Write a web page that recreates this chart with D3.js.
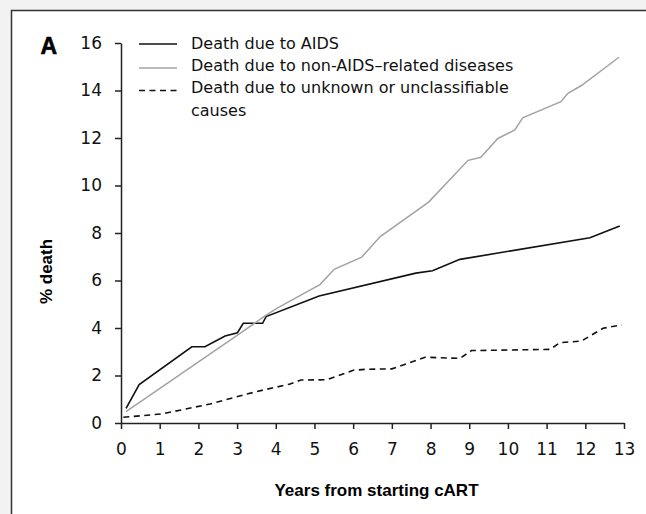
<!DOCTYPE html>
<html lang="en">

<head>
  <meta charset="utf-8" />
  <title>Death by cause after starting cART</title>
  <script src="https://d3js.org/d3.v7.min.js"></script>
  <style>
    body { margin: 0; background: #f2f2f2; }
    svg { display: block; }
    .tick text { font-family: "DejaVu Sans", sans-serif; font-size: 17px; fill: #111; }
    .axis path, .axis line { stroke: #222; stroke-width: 1.5px; }
  </style>
</head>

<body>
  <script>
    // series: [years from starting cART, % death]
    var aidsDeaths = [
      [0.13, 0.62], [0.47, 1.62], [1.83, 3.21], [2.17, 3.21], [2.69, 3.66],
      [3.01, 3.80], [3.16, 4.20], [3.66, 4.20], [3.75, 4.48], [5.12, 5.35],
      [7.62, 6.31], [8.05, 6.41], [8.76, 6.89], [12.12, 7.80], [12.89, 8.29]
    ];
    var nonAidsDeaths = [
      [0.13, 0.48], [3.03, 3.72], [3.76, 4.55], [4.05, 4.85], [5.14, 5.83],
      [5.51, 6.47], [6.22, 6.98], [6.70, 7.85], [7.95, 9.30], [8.97, 11.06],
      [9.30, 11.19], [9.74, 11.98], [10.18, 12.34], [10.38, 12.85], [11.37, 13.53],
      [11.55, 13.88], [11.90, 14.21], [12.87, 15.40]
    ];
    var unknownDeaths = [
      [0.06, 0.24], [1.05, 0.38], [2.30, 0.80], [3.16, 1.18], [3.68, 1.39],
      [4.37, 1.64], [4.65, 1.81], [5.32, 1.82], [6.00, 2.22], [6.31, 2.26],
      [7.00, 2.28], [7.86, 2.77], [8.76, 2.72], [9.06, 3.05], [11.09, 3.10],
      [11.34, 3.38], [11.90, 3.45], [12.46, 3.99], [12.94, 4.13]
    ];
    var xTicks = d3.range(0, 14);
    var yTicks = [0, 2, 4, 6, 8, 10, 12, 14, 16];
    var legendLabels = [
      ["Death due to AIDS"],
      ["Death due to non-AIDS\u2013related diseases"],
      ["Death due to unknown or unclassifiable", "causes"]
    ];

    var svg_width = 646;
    var svg_height = 514;

    var svg = d3.select("body").append("svg")
      .attr("width", svg_width)
      .attr("height", svg_height);

    // white panel with a frame on the left and top
    svg.append("rect")
      .attr("x", 11.5).attr("y", 10.5)
      .attr("width", svg_width).attr("height", svg_height)
      .attr("fill", "#fff")
      .attr("stroke", "#333")
      .attr("stroke-width", 1.5);

    var x = d3.scaleLinear().domain([0, 13]).range([121, 624]);
    var y = d3.scaleLinear().domain([0, 16]).range([423, 43]);

    var xAxis = d3.axisBottom(x).tickValues(xTicks).tickSize(6).tickPadding(14).tickSizeOuter(0);
    var yAxis = d3.axisLeft(y).tickValues(yTicks).tickSize(6).tickPadding(13).tickSizeOuter(0);

    svg.append("g")
      .attr("class", "axis axis--x")
      .attr("transform", "translate(0," + y(0) + ")")
      .call(xAxis);

    svg.append("g")
      .attr("class", "axis axis--y")
      .attr("transform", "translate(" + x(0) + ",0)")
      .call(yAxis);

    var line = d3.line()
      .x(function (d) { return x(d[0]); })
      .y(function (d) { return y(d[1]); });

    var styles = [
      { color: "#111", width: 1.6, dash: null },
      { color: "#a3a3a3", width: 1.5, dash: null },
      { color: "#111", width: 1.6, dash: "6,4.5" }
    ];
    var series = [aidsDeaths, nonAidsDeaths, unknownDeaths];

    series.forEach(function (s, i) {
      svg.append("path")
        .datum(s)
        .attr("fill", "none")
        .attr("stroke", styles[i].color)
        .attr("stroke-width", styles[i].width)
        .attr("stroke-dasharray", styles[i].dash)
        .attr("d", line);
    });

    // legend
    var legendLineY = [44, 68, 90.5];
    var legendTextY = [48.5, 71, 92.5];
    legendLabels.forEach(function (lab, i) {
      svg.append("line")
        .attr("x1", 139).attr("x2", 177)
        .attr("y1", legendLineY[i]).attr("y2", legendLineY[i])
        .attr("stroke", styles[i].color)
        .attr("stroke-width", styles[i].width)
        .attr("stroke-dasharray", styles[i].dash);
      lab.forEach(function (t, j) {
        svg.append("text")
          .attr("x", 191)
          .attr("y", legendTextY[i] + j * 23.5)
          .attr("font-family", "DejaVu Sans, sans-serif")
          .attr("font-size", 16)
          .attr("fill", "#111")
          .text(t);
      });
    });

    // panel letter and axis titles
    svg.append("text")
      .attr("x", 40.5).attr("y", 54)
      .attr("font-family", "Liberation Sans, Arial, sans-serif")
      .attr("font-weight", "bold")
      .attr("font-size", 23)
      .attr("stroke", "#000")
      .attr("stroke-width", 0.6)
      .attr("fill", "#000")
      .text("A");

    svg.append("text")
      .attr("x", (x(0) + x(13)) / 2 + 4)
      .attr("y", 496)
      .attr("text-anchor", "middle")
      .attr("font-family", "Liberation Sans, Arial, sans-serif")
      .attr("font-weight", "bold")
      .attr("font-size", 17)
      .attr("fill", "#000")
      .text("Years from starting cART");

    svg.append("text")
      .attr("transform", "translate(51.5,271.5) rotate(-90)")
      .attr("text-anchor", "middle")
      .attr("font-family", "Liberation Sans, Arial, sans-serif")
      .attr("font-weight", "bold")
      .attr("font-size", 17)
      .attr("fill", "#000")
      .text("% death");
  </script>
</body>

</html>
